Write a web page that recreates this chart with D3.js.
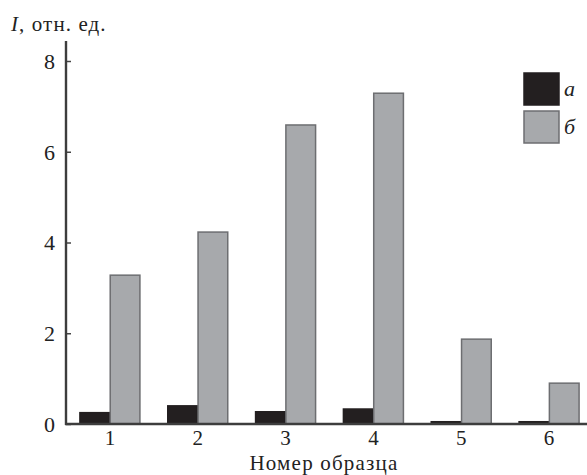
<!DOCTYPE html>
<html>
<head>
<meta charset="utf-8">
<script src="https://cdn.jsdelivr.net/npm/d3@7"></script>
<style>
  body { margin: 0; background: #fff; }
  svg { display: block; font-family: "Liberation Serif", "Times New Roman", serif; }
</style>
</head>
<body>
<svg id="chart" width="587" height="475"></svg>
<script>
// sample numbers and the two series (а, б)
var samples = ["1", "2", "3", "4", "5", "6"];
var seriesA = [0.25, 0.4, 0.27, 0.33, 0.05, 0.05];
var seriesB = [3.28, 4.23, 6.59, 7.29, 1.87, 0.9];
var seriesNames = ["а", "б"];
var yTicks = [0, 2, 4, 6, 8];

var colors = ["#231f20", "#a7a9ac"];

var svg = d3.select("#chart");

var x = d3.scaleBand()
  .domain(samples)
  .range([66, 593]);

var inner = d3.scaleBand()
  .domain(seriesNames)
  .range([x.bandwidth() / 2 - 30, x.bandwidth() / 2 + 30])
  .paddingInner(0.02);

var y = d3.scaleLinear()
  .domain([0, 8])
  .range([424, 61]);

var rows = samples.map((s, i) => ({ sample: s, values: [seriesA[i], seriesB[i]] }));

// bars
var groups = svg.selectAll("g.group")
  .data(rows)
  .join("g")
  .attr("class", "group")
  .attr("transform", d => "translate(" + x(d.sample) + ",0)");

groups.selectAll("rect")
  .data(d => d.values.map((v, j) => ({ name: seriesNames[j], value: v, j: j })))
  .join("rect")
  .attr("x", d => inner(d.name))
  .attr("width", inner.bandwidth())
  .attr("y", d => y(d.value))
  .attr("height", d => y(0) - y(d.value))
  .attr("fill", d => colors[d.j])
  .attr("stroke", d => d.j ? "#6d6e71" : "#231f20")
  .attr("stroke-width", 1.5);

// y axis
var yAxis = d3.axisRight(y)
  .tickValues(yTicks)
  .tickSize(5)
  .tickFormat(d3.format("d"));

var yg = svg.append("g")
  .attr("transform", "translate(66,0)")
  .call(yAxis);
yg.select(".domain").remove();
yg.selectAll(".tick line").attr("stroke", "#444").attr("stroke-width", 1.5);
yg.selectAll(".tick text")
  .attr("x", -11)
  .attr("dy", "0.34em")
  .attr("text-anchor", "end")
  .attr("font-size", 22)
  .attr("font-family", "Liberation Serif")
  .attr("fill", "#222");

svg.append("line")
  .attr("x1", 66).attr("x2", 66)
  .attr("y1", 41).attr("y2", y(0) + 1)
  .attr("stroke", "#3d3d3d").attr("stroke-width", 2.4);

// x axis
var xAxis = d3.axisBottom(x).tickSize(0).tickPadding(6);
var xg = svg.append("g")
  .attr("transform", "translate(0," + y(0) + ")")
  .call(xAxis);
xg.select(".domain").remove();
xg.selectAll(".tick text")
  .attr("font-size", 21)
  .attr("font-family", "Liberation Serif")
  .attr("fill", "#222");

svg.append("line")
  .attr("x1", 65).attr("x2", 587)
  .attr("y1", y(0)).attr("y2", y(0))
  .attr("stroke", "#3d3d3d").attr("stroke-width", 2.4);

// axis titles
var yTitle = svg.append("text")
  .attr("x", 11).attr("y", 31)
  .attr("font-size", 21)
  .attr("letter-spacing", 1.1)
  .attr("fill", "#222");
yTitle.append("tspan").attr("font-style", "italic").text("I");
yTitle.append("tspan").text(", отн. ед.");

svg.append("text")
  .attr("x", 324).attr("y", 470)
  .attr("text-anchor", "middle")
  .attr("font-size", 21)
  .attr("letter-spacing", 1.2)
  .attr("fill", "#222")
  .text("Номер образца");

// legend
var legend = svg.append("g").attr("transform", "translate(524,73)");
var items = legend.selectAll("g")
  .data(seriesNames)
  .join("g")
  .attr("transform", (d, i) => "translate(0," + i * 38 + ")");
items.append("rect")
  .attr("width", 35).attr("height", 32)
  .attr("fill", (d, i) => colors[i])
  .attr("stroke", (d, i) => i ? "#6d6e71" : "#231f20")
  .attr("stroke-width", 1.5);
items.append("text")
  .attr("x", 40).attr("y", 23)
  .attr("font-size", 22)
  .attr("font-style", "italic")
  .attr("fill", "#222")
  .text(d => d);
</script>
</body>
</html>
